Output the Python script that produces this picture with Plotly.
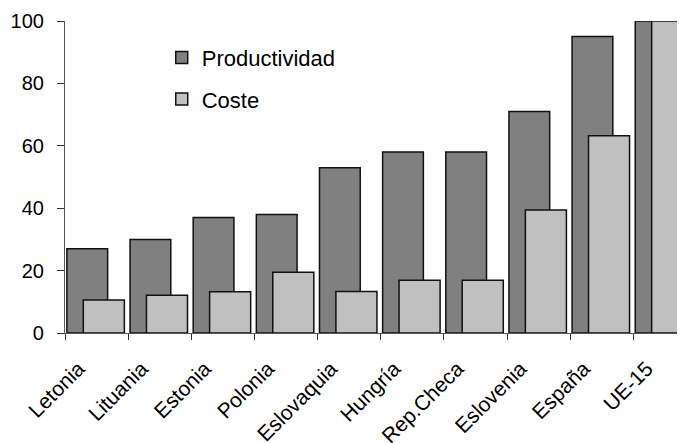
import plotly.graph_objects as go

categories = ["Letonia", "Lituania", "Estonia", "Polonia", "Eslovaquia", "Hungría",
              "Rep.Checa", "Eslovenia", "España", "UE-15"]
productividad = [27, 30, 37, 38, 53, 58, 58, 71, 95, 100]
coste = [10.6, 12.1, 13.2, 19.5, 13.3, 16.9, 16.9, 39.4, 63.2, 100]
y_ticks = [0, 20, 40, 60, 80, 100]

FONT = "Liberation Sans, Arial, sans-serif"

fig = go.Figure()
fig.add_trace(go.Bar(
    x=categories, y=productividad, name="Productividad",
    marker=dict(color="#808080", line=dict(color="#111111", width=1.5)),
    offset=-0.47, width=0.645, legendgroup="a",
))
fig.add_trace(go.Bar(
    x=categories, y=coste, name="Coste",
    marker=dict(color="#c0c0c0", line=dict(color="#111111", width=1.5)),
    offset=-0.21, width=0.65, legendgroup="b",
))

# page body has an 8px margin: compensate so the plot lands where the reference has it
fig.update_layout(
    width=685, height=443,
    margin=dict(l=56.5, r=8, t=12.7, b=118, autoexpand=False),
    paper_bgcolor="white", plot_bgcolor="white",
    barmode="overlay",
    font=dict(family=FONT, size=20, color="#000000"),
    showlegend=True,
    legend=dict(x=0.156, y=0.950, xanchor="left", yanchor="top",
                bgcolor="rgba(0,0,0,0)", font=dict(size=22),
                tracegroupgap=10, traceorder="grouped"),
    xaxis=dict(
        type="category", range=[-0.5, 9.318], automargin=False,
        tickangle=-45, tickson="boundaries",
        ticks="outside", ticklen=6, tickcolor="#333333",
        ticklabelshift=-18, ticklabelstandoff=14,
        showline=True, linecolor="#555555", linewidth=1.2,
        showgrid=False, zeroline=False,
        tickfont=dict(size=21),
    ),
    yaxis=dict(
        range=[0, 100], tickvals=y_ticks, automargin=False,
        ticks="outside", ticklen=7, tickcolor="#333333",
        ticklabelstandoff=9,
        showline=True, linecolor="#555555", linewidth=1.2,
        showgrid=False, zeroline=False,
        tickfont=dict(size=20),
    ),
)

fig.write_html("out.html")
